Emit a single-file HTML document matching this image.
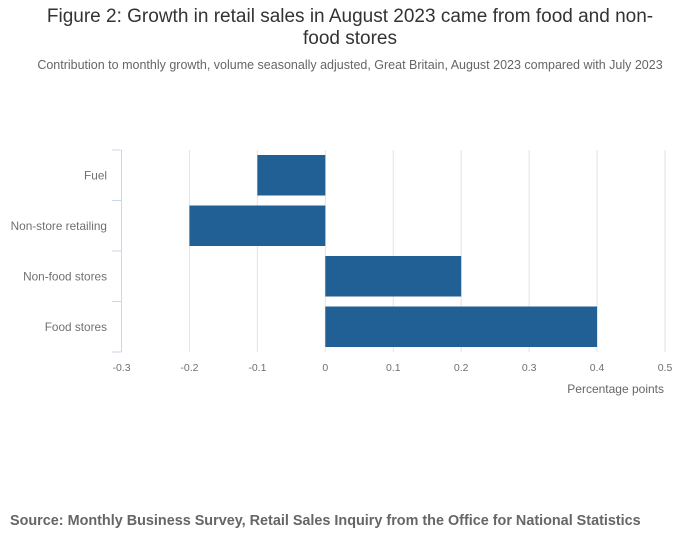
<!DOCTYPE html>
<html><head><meta charset="utf-8"><style>
body{margin:0;width:700px;height:549px;background:#fff;font-family:"Liberation Sans",sans-serif;overflow:hidden}
#title{position:absolute;left:0;top:6px;width:700px;text-align:center;font-size:19px;line-height:22px;color:#333}
#sub{position:absolute;left:0;top:58px;width:700px;text-align:center;font-size:12.5px;color:#666}
#src{position:absolute;left:10px;top:513px;font-size:14.4px;font-weight:bold;color:#666}
svg{position:absolute;left:0;top:0}
</style></head><body>
<div id="title">Figure 2: Growth in retail sales in August 2023 came from food and non-<br>food stores</div>
<div id="sub">Contribution to monthly growth, volume seasonally adjusted, Great Britain, August 2023 compared with July 2023</div>
<svg id="chart" width="700" height="549"></svg>
<div id="src">Source: Monthly Business Survey, Retail Sales Inquiry from the Office for National Statistics</div>
<script>
const categories=["Fuel","Non-store retailing","Non-food stores","Food stores"];
const values=[-0.1,-0.2,0.2,0.4];
const ticks=[-0.3,-0.2,-0.1,0,0.1,0.2,0.3,0.4,0.5];
const tickLabels=["-0.3","-0.2","-0.1","0","0.1","0.2","0.3","0.4","0.5"];
const NS="http://www.w3.org/2000/svg";
const svgEl=document.getElementById('chart');
const xLeft=121.5,xRight=665,yTop=150,yBot=352;
const xs=v=>xLeft+(v-ticks[0])/(ticks[ticks.length-1]-ticks[0])*(xRight-xLeft);
const band=(yBot-yTop)/categories.length;
function mk(t,a){const e=document.createElementNS(NS,t);for(const k in a)e.setAttribute(k,a[k]);svgEl.appendChild(e);return e;}
ticks.forEach((t,i)=>{
  if(i>0){const g=mk('line',{x1:xs(t),x2:xs(t),y1:yTop,y2:yBot,stroke:'#e2e2e2','stroke-width':1});
  
  }
  const l=mk('text',{x:xs(t),y:371,'text-anchor':'middle','font-size':10.5,fill:'#707070'});
  l.textContent=tickLabels[i];
  
  
});
const ax=mk('line',{x1:xLeft,x2:xLeft,y1:yTop,y2:yBot,stroke:'#ccd6eb','stroke-width':1});


for(let i=0;i<=categories.length;i++){
  const tk=mk('line',{x1:112,x2:xLeft,y1:yTop+i*band,y2:yTop+i*band,stroke:'#ccd6eb','stroke-width':1});
  
  
}
categories.forEach((c,i)=>{
  const y=yTop+i*band;
  const a=xs(Math.min(0,values[i])),b=xs(Math.max(0,values[i]));
  const r=mk('rect',{x:a,y:y+5,width:b-a,height:band-10,fill:'#206095'});
  
  
  const t=mk('text',{x:107,y:y+band/2+4,'text-anchor':'end','font-size':11.8,fill:'#707070'});
  t.textContent=c;
  
  
});
const at=mk('text',{x:664,y:393,'text-anchor':'end','font-size':12,fill:'#666'});
at.textContent='Percentage points';


</script>
</body></html>
